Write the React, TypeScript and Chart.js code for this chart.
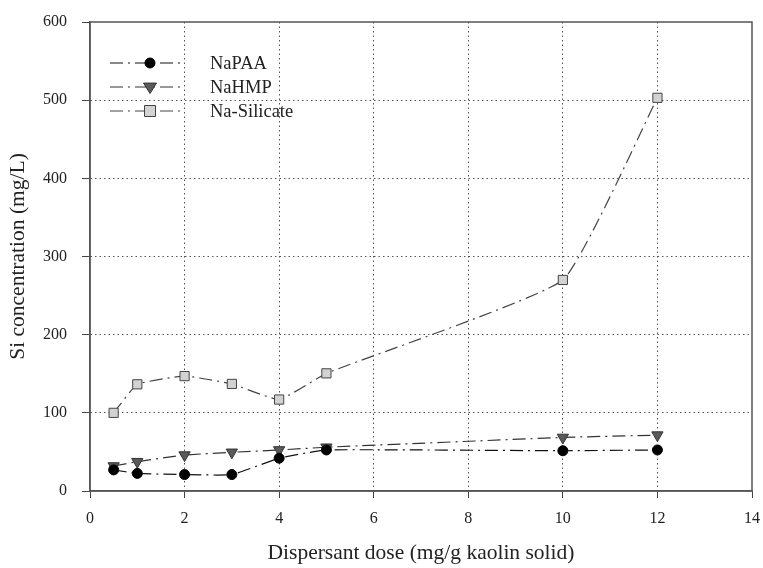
import React, { useEffect, useRef } from "react";
import { Chart, registerables } from "chart.js";

Chart.register(...registerables);

// Dispersant dose (mg/g kaolin solid)
const doses = [0.5, 1, 2, 3, 4, 5, 10, 12];
// Si concentration (mg/L) per dispersant
const naPAA = [27, 22.5, 21, 21, 42, 52.5, 51.5, 52.5];
const naHMP = [32, 37.5, 46, 49.5, 52.5, 56, 68.5, 71.5];
const naSilicate = [100, 136.5, 147, 137, 117, 150.5, 270, 503];

const seriesNames = ["NaPAA", "NaHMP", "Na-Silicate"];
const xTitle = "Dispersant dose (mg/g kaolin solid)";
const yTitle = "Si concentration (mg/L)";

const FONT = "'Liberation Serif', 'DejaVu Serif', serif";
const DASH = [13, 5, 2, 5];

const styles = [
  { line: "#111", fill: "#000", stroke: "#000", shape: "circle", radius: 5, rotation: 0 },
  { line: "#333", fill: "#5a5a5a", stroke: "#333", shape: "triangle", radius: 6.5, rotation: 180 },
  { line: "#444", fill: "#d2d2d2", stroke: "#444", shape: "rect", radius: 6.5, rotation: 0 },
];

function drawMarker(ctx: CanvasRenderingContext2D, kind: number, x: number, y: number) {
  const s = styles[kind];
  ctx.save();
  ctx.fillStyle = s.fill;
  ctx.strokeStyle = s.stroke;
  ctx.lineWidth = 1;
  ctx.setLineDash([]);
  ctx.beginPath();
  if (s.shape === "circle") {
    ctx.arc(x, y, s.radius, 0, Math.PI * 2);
  } else if (s.shape === "triangle") {
    const r = s.radius;
    ctx.moveTo(x - r, y - r * 0.6);
    ctx.lineTo(x + r, y - r * 0.6);
    ctx.lineTo(x, y + r);
    ctx.closePath();
  } else {
    const h = 5.5;
    ctx.rect(x - h, y - h, h * 2, h * 2);
  }
  ctx.fill();
  ctx.stroke();
  ctx.restore();
}

const decorPlugin = {
  id: "decor",
  afterDraw(chart: any) {
    const ctx: CanvasRenderingContext2D = chart.ctx;
    const a = chart.chartArea;
    ctx.save();
    // frame around the plot area
    ctx.strokeStyle = "#555";
    ctx.lineWidth = 1.5;
    ctx.setLineDash([]);
    ctx.strokeRect(a.left, a.top, a.right - a.left, a.bottom - a.top);

    // legend
    const rows = [63, 87, 111];
    ctx.font = `18.5px ${FONT}`;
    ctx.textBaseline = "middle";
    ctx.textAlign = "left";
    rows.forEach((y, i) => {
      ctx.strokeStyle = styles[i].line;
      ctx.lineWidth = 1;
      ctx.setLineDash(DASH);
      ctx.beginPath();
      ctx.moveTo(110, y);
      ctx.lineTo(180, y);
      ctx.stroke();
      ctx.setLineDash([]);
      drawMarker(ctx, i, 150, y);
      ctx.fillStyle = "#222";
      ctx.fillText(seriesNames[i], 210, y + 1);
    });

    // axis titles
    ctx.fillStyle = "#222";
    ctx.font = `21.5px ${FONT}`;
    ctx.textAlign = "center";
    ctx.textBaseline = "middle";
    ctx.fillText(xTitle, (a.left + a.right) / 2, 553);
    ctx.translate(18, (a.top + a.bottom) / 2);
    ctx.rotate(-Math.PI / 2);
    ctx.fillText(yTitle, 0, 0);
    ctx.restore();
  },
};

export default function App() {
  const canvasRef = useRef<HTMLCanvasElement | null>(null);

  useEffect(() => {
    if (!canvasRef.current) return;
    const datasets = [naPAA, naHMP, naSilicate].map((vals, i) => ({
      label: seriesNames[i],
      data: doses.map((d, j) => ({ x: d, y: vals[j] })),
      borderColor: styles[i].line,
      borderWidth: 1.2,
      borderDash: DASH,
      tension: 0.12,
      pointStyle: styles[i].shape,
      pointRadius: styles[i].radius,
      pointRotation: styles[i].rotation,
      pointBackgroundColor: styles[i].fill,
      pointBorderColor: styles[i].stroke,
      pointBorderWidth: 1,
    }));

    const gridColor = (c: any) => {
      const v = c.tick ? c.tick.value : null;
      const sc = c.scale;
      if (v === sc.min || v === sc.max) return "rgba(0,0,0,0)";
      return "#555";
    };

    const chart = new Chart(canvasRef.current, {
      type: "line",
      data: { datasets: datasets as any },
      plugins: [decorPlugin],
      options: {
        animation: false,
        responsive: false,
        layout: { padding: { left: 0, top: 22, right: 11, bottom: 0 } },
        plugins: { legend: { display: false }, tooltip: { enabled: false } },
        scales: {
          x: {
            type: "linear",
            min: 0,
            max: 14,
            ticks: {
              stepSize: 2,
              padding: 11,
              color: "#222",
              font: { family: FONT, size: 16 },
              maxRotation: 0,
            },
            grid: {
              color: gridColor,
              lineWidth: 1,
              tickLength: 7,
              tickColor: "#444",
              tickWidth: 1,
            },
            border: { display: true, color: "#555", width: 1.5, dash: [1.5, 3] },
            afterFit: (s: any) => {
              s.height = 77;
              s.paddingLeft = 0;
              s.paddingRight = 0;
            },
          },
          y: {
            min: 0,
            max: 600,
            ticks: {
              stepSize: 100,
              padding: 15,
              color: "#222",
              font: { family: FONT, size: 16 },
            },
            grid: {
              color: gridColor,
              lineWidth: 1,
              tickLength: 8,
              tickColor: "#444",
              tickWidth: 1,
            },
            border: { display: true, color: "#555", width: 1.5, dash: [1.5, 3] },
            afterFit: (s: any) => {
              s.width = 90;
              s.paddingTop = 0;
              s.paddingBottom = 0;
            },
          },
        },
      } as any,
    });
    return () => chart.destroy();
  }, []);

  return (
    <div style={{ position: "fixed", left: 0, top: 0, width: 763, height: 568, background: "#fff" }}>
      <canvas ref={canvasRef} width={763} height={568} style={{ display: "block" }} />
    </div>
  );
}
